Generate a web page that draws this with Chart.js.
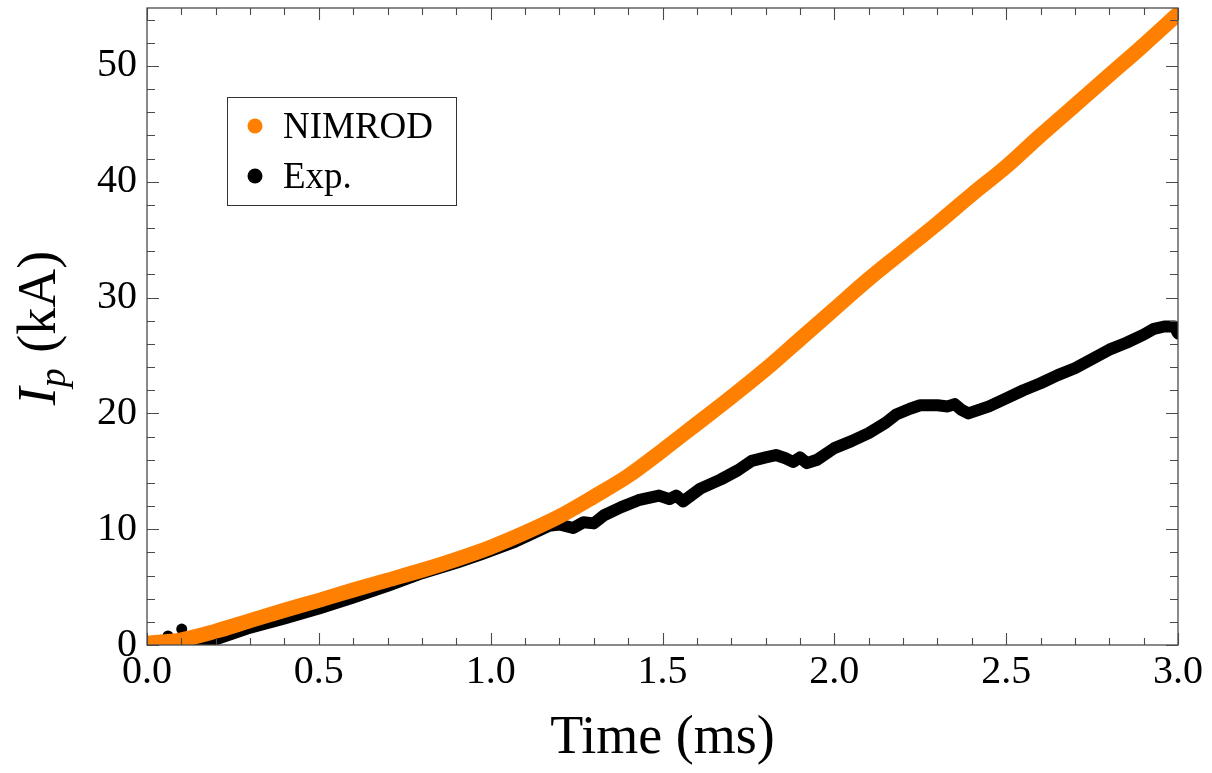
<!DOCTYPE html>
<html>
<head>
<meta charset="utf-8">
<script src="https://cdn.jsdelivr.net/npm/chart.js@4.4.0/dist/chart.umd.min.js"></script>
<style>
  html, body { margin: 0; padding: 0; background: #fff; }
  #wrap { width: 1212px; height: 773px; position: relative; }
</style>
</head>
<body>
<div id="wrap"><canvas id="ip-chart"></canvas></div>
<script>
// ==========================================
// DATA
// ==========================================

const nimrodTime = [0.0, 0.1, 0.2, 0.3, 0.4, 0.5, 0.6, 0.7, 0.8, 0.9, 1.0,
  1.1, 1.2, 1.3, 1.4, 1.5, 1.6, 1.7, 1.8, 1.9, 2.0,
  2.1, 2.2, 2.3, 2.4, 2.5, 2.6, 2.7, 2.8, 2.9, 3.0];
const nimrodCurrent = [0.15, 0.45, 1.2, 2.1, 3.0, 3.85, 4.75, 5.6, 6.45, 7.4, 8.45,
  9.7, 11.1, 12.8, 14.6, 16.8, 19.1, 21.4, 23.8, 26.4, 29.0,
  31.6, 34.0, 36.4, 38.9, 41.3, 44.0, 46.6, 49.2, 51.8, 54.5];

const expTime = [0.0, 0.1, 0.15, 0.2, 0.3, 0.4, 0.5, 0.6, 0.7, 0.8, 0.9, 0.97,
  1.07, 1.12, 1.17, 1.2, 1.24, 1.27, 1.3, 1.33, 1.38, 1.43, 1.49, 1.52, 1.54, 1.56,
  1.61, 1.67, 1.72, 1.76, 1.8, 1.83, 1.86, 1.88, 1.9, 1.92, 1.95, 2.0, 2.05, 2.1,
  2.15, 2.18, 2.22, 2.25, 2.3, 2.33, 2.35, 2.37, 2.39, 2.42, 2.45, 2.5, 2.55, 2.6,
  2.65, 2.7, 2.75, 2.8, 2.85, 2.9, 2.93, 2.96, 2.99, 3.0];
const expCurrent = [0.1, 0.0, 0.15, 0.5, 1.5, 2.3, 3.15, 4.1, 5.1, 6.2, 7.1, 7.8,
  8.9, 9.6, 10.3, 10.4, 10.1, 10.6, 10.5, 11.2, 11.9, 12.5, 12.9, 12.6, 12.9, 12.4,
  13.5, 14.3, 15.1, 15.9, 16.2, 16.4, 16.1, 15.8, 16.2, 15.7, 16.0, 17.0, 17.6, 18.3,
  19.2, 19.9, 20.4, 20.7, 20.7, 20.6, 20.8, 20.3, 20.0, 20.3, 20.6, 21.3, 22.0, 22.6,
  23.3, 23.9, 24.7, 25.5, 26.1, 26.8, 27.3, 27.5, 27.5, 26.9];

// isolated early samples of the measured current
const expStrayTime = [0.04, 0.061, 0.09, 0.101];
const expStrayCurrent = [0.4, 0.78, -0.1, 1.38];

const xTicks = [0.0, 0.5, 1.0, 1.5, 2.0, 2.5, 3.0];
const yTicks = [0, 10, 20, 30, 40, 50];

const seriesNames = ['NIMROD', 'Exp.'];

// ==========================================
// STYLE
// ==========================================

const ORANGE = '#ff8000';
const FRAME = '#4a4a4a';
const SERIF = "'Liberation Serif', 'Times New Roman', serif";

const toPoints = (xs, ys) => xs.map((x, i) => ({ x: x, y: ys[i] }));

// ==========================================
// PLUGINS
// ==========================================

// Mathematica-like frame with inward ticks on all four sides
const frameTicks = {
  id: 'frameTicks',
  afterDatasetsDraw(chart) {
    const { ctx, chartArea: a, scales } = chart;
    const xs = scales.x, ys = scales.y;
    ctx.save();
    ctx.strokeStyle = FRAME;
    ctx.lineWidth = 1.3;
    ctx.strokeRect(a.left, a.top, a.right - a.left, a.bottom - a.top);

    ctx.lineWidth = 1.1;
    ctx.beginPath();
    for (let i = 0; i <= 30; i++) {
      const v = i / 10;
      const px = Math.round(xs.getPixelForValue(v)) + 0.5;
      const len = (i % 5 === 0) ? 12 : 7;
      ctx.moveTo(px, a.bottom); ctx.lineTo(px, a.bottom - len);
      ctx.moveTo(px, a.top); ctx.lineTo(px, a.top + len);
    }
    for (let v = 0; v <= 54; v += 2) {
      const py = Math.round(ys.getPixelForValue(v)) + 0.5;
      const len = (v % 10 === 0) ? 12 : 8;
      ctx.moveTo(a.left, py); ctx.lineTo(a.left + len, py);
      ctx.moveTo(a.right, py); ctx.lineTo(a.right - len, py);
    }
    ctx.stroke();
    ctx.restore();
  }
};

// axis titles (y title needs italic I with subscript p)
const axisTitles = {
  id: 'axisTitles',
  afterDraw(chart) {
    const { ctx, chartArea: a } = chart;
    ctx.save();
    ctx.fillStyle = '#000';

    ctx.font = '54px ' + SERIF;
    ctx.textAlign = 'center';
    ctx.textBaseline = 'alphabetic';
    ctx.fillText('Time (ms)', (a.left + a.right) / 2, 753);

    ctx.translate(55, 328);
    ctx.rotate(-Math.PI / 2);
    const fI = 'italic 54px ' + SERIF;
    const fP = 'italic 38px ' + SERIF;
    const fR = '54px ' + SERIF;
    ctx.font = fI; const wI = ctx.measureText('I').width;
    ctx.font = fP; const wP = ctx.measureText('p').width;
    ctx.font = fR; const wR = ctx.measureText(' (kA)').width;
    let x = -(wI + wP + 2 + wR) / 2;
    ctx.textAlign = 'left';
    ctx.font = fI; ctx.fillText('I', x, 0); x += wI;
    ctx.font = fP; ctx.fillText('p', x, 10); x += wP + 2;
    ctx.font = fR; ctx.fillText(' (kA)', x, 0);
    ctx.restore();
  }
};

// boxed legend inside the plot
const boxLegend = {
  id: 'boxLegend',
  afterDraw(chart) {
    const { ctx } = chart;
    const colors = [ORANGE, '#000'];
    ctx.save();
    ctx.fillStyle = '#fff';
    ctx.fillRect(227, 97, 229, 108);
    ctx.strokeStyle = '#333';
    ctx.lineWidth = 1;
    ctx.strokeRect(227.5, 97.5, 229, 108);
    ctx.font = '37px ' + SERIF;
    ctx.textBaseline = 'middle';
    ctx.textAlign = 'left';
    seriesNames.forEach((name, i) => {
      const cy = 126 + i * 50;
      ctx.fillStyle = colors[i];
      ctx.beginPath();
      ctx.arc(255, cy, 7.5, 0, Math.PI * 2);
      ctx.fill();
      ctx.fillStyle = '#000';
      ctx.fillText(name, 283, cy + 2);
    });
    ctx.restore();
  }
};

// ==========================================
// CHART
// ==========================================

const ctx = document.getElementById('ip-chart').getContext('2d');

new Chart(ctx, {
  type: 'line',
  data: {
    datasets: [
      {
        label: seriesNames[0],
        data: toPoints(nimrodTime, nimrodCurrent),
        borderColor: ORANGE,
        borderWidth: 15,
        borderCapStyle: 'round',
        borderJoinStyle: 'round',
        cubicInterpolationMode: 'monotone',
        pointRadius: 0,
        order: 0
      },
      {
        label: seriesNames[1],
        data: toPoints(expTime, expCurrent),
        borderColor: '#000',
        borderWidth: 12,
        borderCapStyle: 'round',
        borderJoinStyle: 'round',
        pointRadius: 0,
        order: 1
      },
      {
        label: 'stray',
        data: toPoints(expStrayTime, expStrayCurrent),
        showLine: false,
        pointRadius: 5.5,
        pointBackgroundColor: '#000',
        pointBorderWidth: 0,
        order: 2
      }
    ]
  },
  options: {
    responsive: true,
    maintainAspectRatio: false,
    animation: false,
    events: [],
    layout: { padding: { top: 8, right: 34, left: 0, bottom: 0 } },
    plugins: {
      legend: { display: false },
      tooltip: { enabled: false }
    },
    scales: {
      x: {
        type: 'linear',
        min: 0,
        max: 3,
        grid: { display: false, drawTicks: false },
        border: { display: false },
        afterBuildTicks: s => { s.ticks = xTicks.map(v => ({ value: v })); },
        afterFit: s => { s.height = 128; s.paddingLeft = 0; s.paddingRight = 0; },
        ticks: {
          padding: 3,
          maxRotation: 0,
          color: '#000',
          font: { family: SERIF, size: 40 },
          callback: v => Number(v).toFixed(1)
        }
      },
      y: {
        type: 'linear',
        min: 0,
        max: 55,
        grid: { display: false, drawTicks: false },
        border: { display: false },
        afterBuildTicks: s => { s.ticks = yTicks.map(v => ({ value: v })); },
        afterFit: s => { s.width = 147; s.paddingTop = 0; s.paddingBottom = 0; },
        ticks: {
          padding: 10,
          color: '#000',
          font: { family: SERIF, size: 40 },
          callback: v => String(v)
        }
      }
    }
  },
  plugins: [frameTicks, axisTitles, boxLegend]
});
</script>
</body>
</html>
